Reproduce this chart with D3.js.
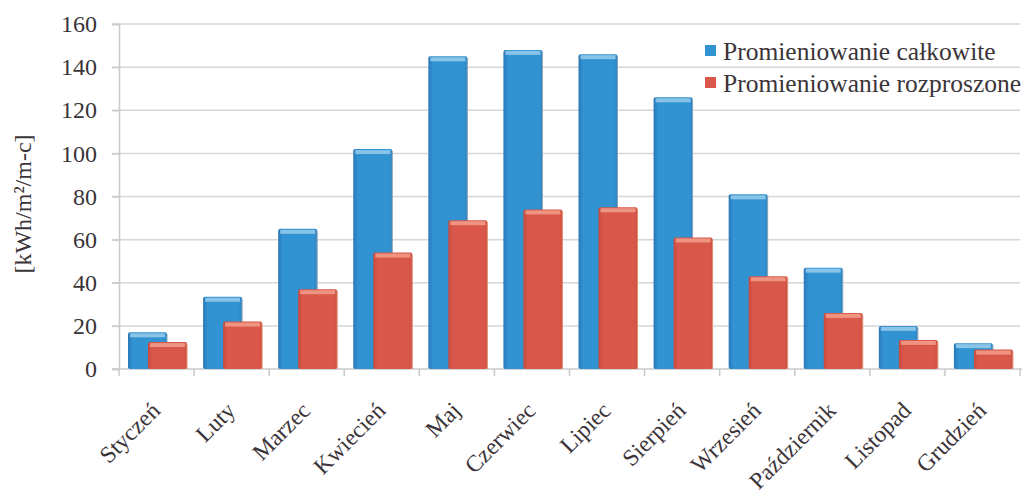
<!DOCTYPE html>
<html>
<head>
<meta charset="utf-8">
<script src="https://cdn.jsdelivr.net/npm/d3@7"></script>
<style>
  body { margin: 0; background: #fff; }
  svg { display: block; }
  text { font-family: "Liberation Serif", "Times New Roman", "DejaVu Serif", serif; }
</style>
</head>
<body>
<svg width="1029" height="492"></svg>
<script>
// Data
const months = ["Styczeń", "Luty", "Marzec", "Kwiecień", "Maj", "Czerwiec",
                "Lipiec", "Sierpień", "Wrzesień", "Październik", "Listopad", "Grudzień"];
const total = [17, 33.5, 65, 102, 145, 148, 146, 126, 81, 47, 20, 12];
const diffuse = [12.5, 22, 37, 54, 69, 74, 75, 61, 43, 26, 13.5, 9];
const seriesNames = ["Promieniowanie całkowite", "Promieniowanie rozproszone"];
const yTicks = [0, 20, 40, 60, 80, 100, 120, 140, 160];

const svg = d3.select("svg");
const textColor = "#3b3438";
const margin = { top: 24, right: 9, bottom: 123, left: 119 };
const width = 1029, height = 492;
const innerWidth = width - margin.left - margin.right;
const innerHeight = height - margin.top - margin.bottom;

const g = svg.append("g")
    .attr("transform", `translate(${margin.left},${margin.top})`);

// Scales
const x = d3.scaleBand().domain(months).range([0, innerWidth]).padding(0);
const y = d3.scaleLinear().domain([0, 160]).range([innerHeight, 0]);

// Gradients for the slightly shaded bars
const defs = svg.append("defs");
function grad(id, dark, mid, light) {
    const lg = defs.append("linearGradient").attr("id", id)
        .attr("x1", 0).attr("x2", 1).attr("y1", 0).attr("y2", 0);
    lg.append("stop").attr("offset", "0%").attr("stop-color", dark);
    lg.append("stop").attr("offset", "12%").attr("stop-color", mid);
    lg.append("stop").attr("offset", "90%").attr("stop-color", mid);
    lg.append("stop").attr("offset", "100%").attr("stop-color", light);
}
grad("gBlue", "#2a78b8", "#3193d2", "#2f86c4");
grad("gRed", "#c9493d", "#d9584b", "#cf5044");

// Gridlines
g.append("g")
    .selectAll("line")
    .data(yTicks.filter(d => d > 0))
    .join("line")
    .attr("x1", -7).attr("x2", innerWidth)
    .attr("y1", d => y(d)).attr("y2", d => y(d))
    .attr("stroke", "#d4d6d9").attr("stroke-width", 1.5);

// Y axis
const yAxis = g.append("g")
    .call(d3.axisLeft(y).tickValues(yTicks).tickSize(7).tickPadding(15));
yAxis.select(".domain").attr("stroke", "#c8cacd").attr("stroke-width", 1.5);
yAxis.selectAll(".tick line").attr("stroke", "#c8cacd").attr("stroke-width", 1.5);
yAxis.selectAll("text")
    .attr("font-family", null)
    .attr("font-size", 24).attr("fill", textColor);

// X axis with ticks at band boundaries
g.append("line")
    .attr("x1", -7).attr("x2", innerWidth + 2)
    .attr("y1", innerHeight).attr("y2", innerHeight)
    .attr("stroke", "#c8cacd").attr("stroke-width", 1.5);
g.append("g")
    .selectAll("line")
    .data(months.concat(["end"]))
    .join("line")
    .attr("x1", (d, i) => i * x.bandwidth())
    .attr("x2", (d, i) => i * x.bandwidth())
    .attr("y1", innerHeight).attr("y2", innerHeight + 7)
    .attr("stroke", "#c8cacd").attr("stroke-width", 1.5);

// Bars
const barW = 39;
const blueOff = 9, redOff = 29;

function drawBars(values, off, fillId, capColor, edgeColor) {
    const grp = g.append("g");
    grp.selectAll("rect.bar")
        .data(values)
        .join("rect")
        .attr("class", "bar")
        .attr("x", (d, i) => x(months[i]) + off)
        .attr("y", d => y(d))
        .attr("width", barW)
        .attr("height", d => innerHeight - y(d))
        .attr("rx", 2)
        .attr("fill", `url(#${fillId})`);
    // top highlight cap
    grp.selectAll("rect.cap")
        .data(values)
        .join("rect")
        .attr("class", "cap")
        .attr("x", (d, i) => x(months[i]) + off + 2)
        .attr("y", d => y(d) + 1)
        .attr("width", barW - 4)
        .attr("height", 4)
        .attr("fill", capColor)
        .attr("opacity", 0.8);
    grp.selectAll("line.edge")
        .data(values)
        .join("line")
        .attr("class", "edge")
        .attr("x1", (d, i) => x(months[i]) + off + barW)
        .attr("x2", (d, i) => x(months[i]) + off + barW)
        .attr("y1", d => y(d) + 2)
        .attr("y2", innerHeight)
        .attr("stroke", edgeColor).attr("stroke-width", 1);
}
drawBars(total, blueOff, "gBlue", "#9fd0ee", "#8aa2b4");
drawBars(diffuse, redOff, "gRed", "#f2a48f", "#e09070");

// Month labels, rotated
g.append("g")
    .selectAll("text")
    .data(months)
    .join("text")
    .attr("transform", d => `translate(${x(d) + x.bandwidth() / 2 + 5},${innerHeight + 43}) rotate(-45)`)
    .attr("text-anchor", "end")
    .attr("font-size", 23.5)
    .attr("fill", textColor)
    .text(d => d);

// Y axis title
svg.append("text")
    .attr("transform", `translate(31,${margin.top + 180}) rotate(-90)`)
    .attr("text-anchor", "middle")
    .attr("font-size", 24)
    .attr("fill", textColor)
    .text("[kWh/m²/m-c]");

// Legend
const legend = svg.append("g").attr("transform", "translate(705,45)");
const legendColors = ["#3193d2", "#d9584b"];
seriesNames.forEach((name, i) => {
    const row = legend.append("g").attr("transform", `translate(0,${i * 32})`);
    row.append("rect").attr("x", 0).attr("y", 0).attr("width", 11).attr("height", 11)
        .attr("fill", legendColors[i]);
    row.append("text").attr("x", 18).attr("y", 15)
        .attr("font-size", 25.5)
        .attr("fill", textColor)
        .text(name);
});
</script>
</body>
</html>
